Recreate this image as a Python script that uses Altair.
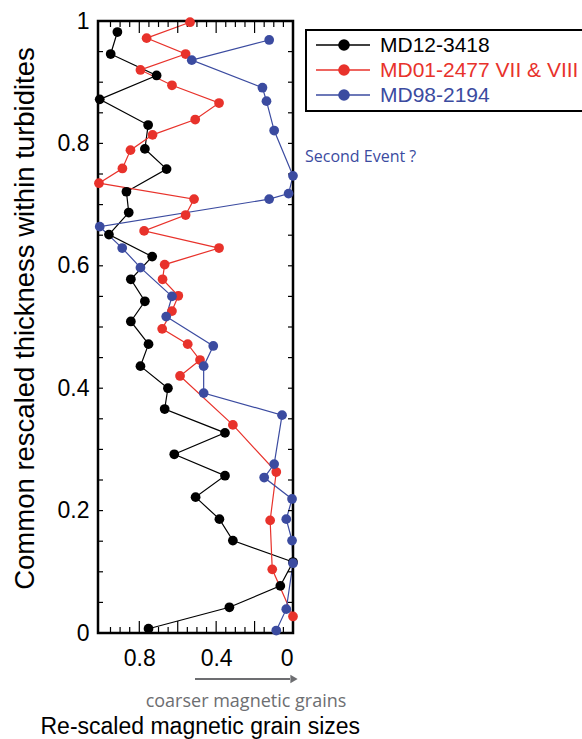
import altair as alt
import pandas as pd

# ---------------- data ----------------
series_names = ["MD12-3418", "MD01-2477 VII & VIII", "MD98-2194"]
series_colors = ["#000000", "#E8322B", "#3B4BA0"]

md12_size = [0.914, 0.949, 0.710, 1.006, 0.754, 0.771, 0.658, 0.867, 0.855, 0.958,
             0.733, 0.844, 0.771, 0.844, 0.752, 0.794, 0.651, 0.668, 0.354, 0.618,
             0.354, 0.507, 0.383, 0.313, 0.0, 0.066, 0.331, 0.752]
md12_thick = [0.982, 0.946, 0.911, 0.872, 0.830, 0.791, 0.758, 0.721, 0.687, 0.651,
              0.615, 0.578, 0.542, 0.509, 0.472, 0.436, 0.400, 0.366, 0.327, 0.292,
              0.257, 0.222, 0.186, 0.151, 0.116, 0.077, 0.042, 0.007]

md01_size = [0.536, 0.762, 0.559, 0.794, 0.630, 0.385, 0.509, 0.731, 0.846, 0.888,
             1.010, 0.515, 0.559, 0.775, 0.385, 0.668, 0.679, 0.597, 0.630, 0.681,
             0.548, 0.484, 0.588, 0.313, 0.087, 0.119, 0.108, 0.0]
md01_thick = [0.998, 0.972, 0.946, 0.920, 0.895, 0.866, 0.839, 0.814, 0.789, 0.759,
              0.735, 0.709, 0.683, 0.657, 0.629, 0.602, 0.578, 0.551, 0.526, 0.497,
              0.472, 0.446, 0.420, 0.340, 0.263, 0.184, 0.104, 0.027]

md98_size = [0.124, 0.527, 0.159, 0.138, 0.098, 0.0, 0.023, 0.124, 1.006, 0.889,
             0.794, 0.630, 0.660, 0.415, 0.465, 0.465, 0.057, 0.098, 0.150, 0.005,
             0.035, 0.005, 0.0, 0.035, 0.087]
md98_thick = [0.969, 0.936, 0.891, 0.869, 0.821, 0.747, 0.718, 0.709, 0.664, 0.629,
              0.597, 0.550, 0.517, 0.469, 0.436, 0.392, 0.356, 0.276, 0.254, 0.219,
              0.186, 0.151, 0.114, 0.039, 0.004]

x_tick_labels = [0.8, 0.4, 0]
y_tick_labels = [0, 0.2, 0.4, 0.6, 0.8, 1]
x_minor_ticks = [0.05, 0.1, 0.15, 0.25, 0.3, 0.35, 0.45, 0.5, 0.55, 0.65, 0.7, 0.75,
                 0.85, 0.9, 0.95]
x_major_ticks = [0.2, 0.4, 0.6, 0.8]
y_ticks = [0.05, 0.1, 0.15, 0.2, 0.25, 0.3, 0.35, 0.4, 0.45, 0.5, 0.55, 0.6, 0.65,
           0.7, 0.75, 0.8, 0.85, 0.9, 0.95]

annotation_event = ["Second Event ?"]
annotation_arrow = ["coarser magnetic grains"]

# ---------------- build table ----------------
frames = []
for name, xs, ys in zip(series_names,
                        [md12_size, md01_size, md98_size],
                        [md12_thick, md01_thick, md98_thick]):
    frames.append(pd.DataFrame({"series": name, "size": xs, "thick": ys,
                                "idx": range(len(xs))}))
df = pd.concat(frames, ignore_index=True)

W, H = 195, 612
FONT = "Liberation Sans"
ANN_FONT = "Open Sans"

xscale = alt.Scale(domain=[0, 1.015], reverse=True, nice=False, zero=False)
yscale = alt.Scale(domain=[0, 1], nice=False, zero=False)
cscale = alt.Scale(domain=series_names, range=series_colors)

x_axis = alt.Axis(
    title="Re-scaled magnetic grain sizes", values=x_tick_labels, format="~g",
    ticks=False, domain=False, grid=False,
    labelFont=FONT, labelFontSize=23, labelPadding=14, labelColor="black",
    titleFont=FONT, titleFontSize=23, titleFontWeight="normal", titleColor="black",
    titleX=-58, titleY=100, titleAlign="left", titleBaseline="alphabetic",
)
y_axis = alt.Axis(
    title="Common rescaled thickness within turbidites", values=y_tick_labels,
    format="~g", ticks=False, domain=False, grid=False,
    labelFont=FONT, labelFontSize=23, labelPadding=9, labelColor="black",
    titleFont=FONT, titleFontSize=27.5, titleFontWeight="normal", titleColor="black",
    titleAngle=270, titleX=-65, titleY=297, titleAlign="center",
    titleBaseline="alphabetic",
)
X = alt.X("size:Q", scale=xscale, axis=x_axis)
Y = alt.Y("thick:Q", scale=yscale, axis=y_axis)

base = alt.Chart(df)
lines = base.mark_line(strokeWidth=1.2).encode(
    x=X, y=Y,
    color=alt.Color("series:N", scale=cscale, legend=None),
    order=alt.Order("idx:Q"), detail="series:N"
)
points = base.mark_point(filled=True, size=95, opacity=1).encode(
    x=X, y=Y,
    color=alt.Color("series:N", scale=cscale, legend=None),
)

# inward tick marks
xminor_df = pd.DataFrame({"size": x_minor_ticks})
xmajor_df = pd.DataFrame({"size": x_major_ticks})
yt_df = pd.DataFrame({"thick": y_ticks})

tick_layers = [
    alt.Chart(xminor_df).mark_rule(color="black", strokeWidth=1.2).encode(
        x=X, y=alt.value(H), y2=alt.value(H - 6)),
    alt.Chart(xminor_df).mark_rule(color="black", strokeWidth=1.2).encode(
        x=X, y=alt.value(0), y2=alt.value(6)),
    alt.Chart(xmajor_df).mark_rule(color="black", strokeWidth=1.2).encode(
        x=X, y=alt.value(H), y2=alt.value(H - 12)),
    alt.Chart(xmajor_df).mark_rule(color="black", strokeWidth=1.2).encode(
        x=X, y=alt.value(0), y2=alt.value(12)),
    alt.Chart(yt_df).mark_rule(color="black", strokeWidth=1.2).encode(
        y=Y, x=alt.value(0), x2=alt.value(5)),
    alt.Chart(yt_df).mark_rule(color="black", strokeWidth=1.2).encode(
        y=Y, x=alt.value(W), x2=alt.value(W - 5)),
]

frame = alt.Chart(pd.DataFrame({"t": ["frame"]})).mark_rect(
    fill=None, stroke="black", strokeWidth=2.5
).encode(x=alt.value(0), x2=alt.value(W), y=alt.value(0), y2=alt.value(H))

# manual legend
legend_box = alt.Chart(pd.DataFrame({"t": ["legend"]})).mark_rect(
    fill="white", stroke="black", strokeWidth=2
).encode(x=alt.value(208), x2=alt.value(490), y=alt.value(9), y2=alt.value(90))
legend_layers = [legend_box]
for i, (name, col) in enumerate(zip(series_names, series_colors)):
    ldf = pd.DataFrame({"series": [name]})
    yy = 24 + 25 * i
    legend_layers.append(alt.Chart(ldf).mark_rule(color=col, strokeWidth=1.3).encode(
        x=alt.value(218), x2=alt.value(272), y=alt.value(yy)))
    legend_layers.append(alt.Chart(ldf).mark_point(
        filled=True, size=135, color=col, opacity=1).encode(
        x=alt.value(246), y=alt.value(yy)))
    legend_layers.append(alt.Chart(ldf).mark_text(
        align="left", baseline="middle", font=FONT, fontSize=21, color=col).encode(
        text="series:N", x=alt.value(282), y=alt.value(yy + 1)))

# annotations
event_text = alt.Chart(pd.DataFrame({"t": annotation_event})).mark_text(
    align="left", baseline="middle", font=ANN_FONT, fontSize=16, color="#3B4BA0"
).encode(text="t:N", x=alt.value(207), y=alt.value(136))

arrow_line = alt.Chart(pd.DataFrame({"t": annotation_arrow})).mark_rule(
    color="#6D6E71", strokeWidth=2
).encode(x=alt.value(97), x2=alt.value(192), y=alt.value(658))
arrow_head = alt.Chart(pd.DataFrame({"t": annotation_arrow})).mark_point(
    shape="triangle-right", filled=True, size=70, color="#6D6E71", opacity=1
).encode(x=alt.value(196), y=alt.value(658))
arrow_text = alt.Chart(pd.DataFrame({"t": annotation_arrow})).mark_text(
    align="center", baseline="middle", font=ANN_FONT, fontSize=18, color="#6D6E71"
).encode(text="t:N", x=alt.value(148), y=alt.value(681))

chart = alt.layer(
    lines, *tick_layers, frame, points, *legend_layers,
    event_text, arrow_line, arrow_head, arrow_text
).properties(
    width=W, height=H,
    background="white",
    autosize=alt.AutoSizeParams(type="none"),
    padding={"left": 98, "top": 21, "right": 289, "bottom": 106},
).configure_view(stroke=None)

chart.save("out.html", embed_options={"renderer": "svg", "actions": False})
